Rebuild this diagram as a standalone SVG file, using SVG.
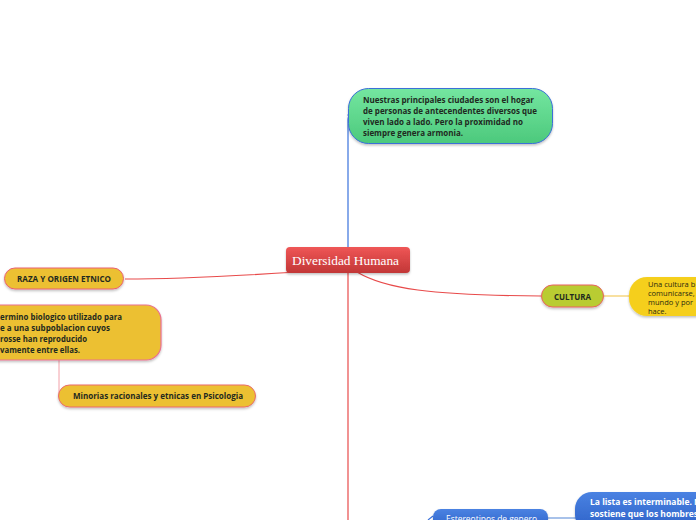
<svg xmlns="http://www.w3.org/2000/svg" width="696" height="520" viewBox="0 0 696 520">
<defs>
<linearGradient id="gRed" x1="0" y1="0" x2="0" y2="1"><stop offset="0" stop-color="#ef5656"/><stop offset="1" stop-color="#c23737"/></linearGradient>
<linearGradient id="gGreen" x1="0" y1="0" x2="0" y2="1"><stop offset="0" stop-color="#74e6a0"/><stop offset="1" stop-color="#4cc97c"/></linearGradient>
<linearGradient id="gBlue" x1="0" y1="0" x2="0" y2="1"><stop offset="0" stop-color="#4a82e2"/><stop offset="1" stop-color="#2c60c6"/></linearGradient>
<filter id="sh" x="-10%" y="-20%" width="120%" height="150%"><feDropShadow dx="0" dy="1.5" stdDeviation="1.2" flood-color="#000" flood-opacity="0.25"/></filter>
<style>
.con{fill:none;stroke:#e84a4a;stroke-width:1.2}
.t{font-family:"Open Sans","Noto Sans","Liberation Sans",sans-serif;font-weight:bold;font-size:8.5px;fill:#1f2a1f}
.tn{font-family:"Open Sans","Noto Sans","Liberation Sans",sans-serif;font-size:7.5px;fill:#2a2a10}
.tw{font-family:"Open Sans","Noto Sans","Liberation Sans",sans-serif;font-weight:bold;font-size:8.5px;fill:#ffffff}
.yel{fill:#ecc032;filter:url(#sh)}
</style>
</defs>
<g id="connectors">
<path d="M348 248 L348 120 Q348 115 351 115" fill="none" stroke="#3a72dc" stroke-width="1.2"/>
<circle cx="349" cy="115" r="1.5" fill="#3a72dc"/>
<path class="con" d="M348 273 L348 520"/>
<path class="con" d="M298 272 C250 275 185 279 125 279"/>
<path class="con" d="M357 272 C385 289 430 295 541 296"/>
<path d="M59 360 L59 395" fill="none" stroke="#f2a0a8" stroke-width="1"/>
<path d="M604 296 L630 296" fill="none" stroke="#f8e0a0" stroke-width="2"/>
<path d="M548 518 L576 518" fill="none" stroke="#a8c2ea" stroke-width="2"/>
<path d="M428 520 L433 516" fill="none" stroke="#3a72dc" stroke-width="1.2"/>
</g>
<g id="central">
<rect x="286" y="247" width="124" height="26" rx="4" fill="url(#gRed)" filter="url(#sh)"/>
<text x="292" y="265" font-family="'Liberation Serif','DejaVu Serif',serif" font-size="13.5" fill="#ffffff" textLength="107" lengthAdjust="spacingAndGlyphs">Diversidad Humana</text>
</g>
<g id="ciudades">
<rect x="348.5" y="88.5" width="204" height="55" rx="20" fill="url(#gGreen)" stroke="#3a6fd8" stroke-width="1" filter="url(#sh)"/>
<text class="t" x="363" y="103" textLength="171" lengthAdjust="spacingAndGlyphs">Nuestras principales ciudades son el hogar</text>
<text class="t" x="363" y="114" textLength="174" lengthAdjust="spacingAndGlyphs">de personas de antecendentes diversos que</text>
<text class="t" x="363" y="125" textLength="160" lengthAdjust="spacingAndGlyphs">viven lado a lado. Pero la proximidad no</text>
<text class="t" x="363" y="136" textLength="100" lengthAdjust="spacingAndGlyphs">siempre genera armonia.</text>
</g>
<g id="raza">
<rect x="4.5" y="268" width="119" height="21" rx="10.5" class="yel" stroke="#ea6070" stroke-width="1"/>
<text class="t" x="17" y="282" font-size="8" textLength="94" lengthAdjust="spacingAndGlyphs">RAZA Y ORIGEN ETNICO</text>
</g>
<g id="termino">
<rect x="-20" y="305" width="181" height="55" rx="15" class="yel" stroke="#ea7090" stroke-width="1.2"/>
<text class="t" x="0" y="320" textLength="122" lengthAdjust="spacingAndGlyphs">ermino biologico utilizado para</text>
<text class="t" x="0" y="331" textLength="110" lengthAdjust="spacingAndGlyphs">e a una subpoblacion cuyos</text>
<text class="t" x="0" y="342" textLength="87" lengthAdjust="spacingAndGlyphs">rosse han reproducido</text>
<text class="t" x="0" y="353" textLength="80" lengthAdjust="spacingAndGlyphs">vamente entre ellas.</text>
</g>
<g id="minorias">
<rect x="58.5" y="385" width="197" height="22" rx="11" class="yel" stroke="#ea6a6a" stroke-width="1"/>
<text class="t" x="73" y="399" textLength="170" lengthAdjust="spacingAndGlyphs">Minorias racionales y etnicas en Psicologia</text>
</g>
<g id="cultura">
<rect x="541.5" y="285" width="62" height="22" rx="11" fill="#b9cc30" stroke="#ea6060" stroke-width="1" filter="url(#sh)"/>
<text class="t" x="554" y="299.5" fill="#18401e" textLength="37" lengthAdjust="spacingAndGlyphs">CULTURA</text>
</g>
<g id="cultura-def">
<rect x="629" y="277" width="100" height="39" rx="18" fill="#f5cf1e" filter="url(#sh)"/>
<text class="tn" x="648" y="287">Una cultura b</text>
<text class="tn" x="648" y="296">comunicarse,</text>
<text class="tn" x="648" y="305">mundo y por</text>
<text class="tn" x="648" y="314">hace.</text>
</g>
<g id="estereotipos">
<rect x="433" y="509" width="115" height="22" rx="8" fill="url(#gBlue)" filter="url(#sh)"/>
<text x="446" y="522" font-family="'Open Sans','Noto Sans','Liberation Sans',sans-serif" font-size="8.5" fill="#ffffff" textLength="91" lengthAdjust="spacingAndGlyphs">Estereotipos de genero</text>
</g>
<g id="lista">
<rect x="575" y="492" width="160" height="40" rx="17" fill="url(#gBlue)" filter="url(#sh)"/>
<text class="tw" x="590" y="505">La lista es interminable. N</text>
<text class="tw" x="590" y="517">sostiene que los hombres s</text>
</g>
</svg>
